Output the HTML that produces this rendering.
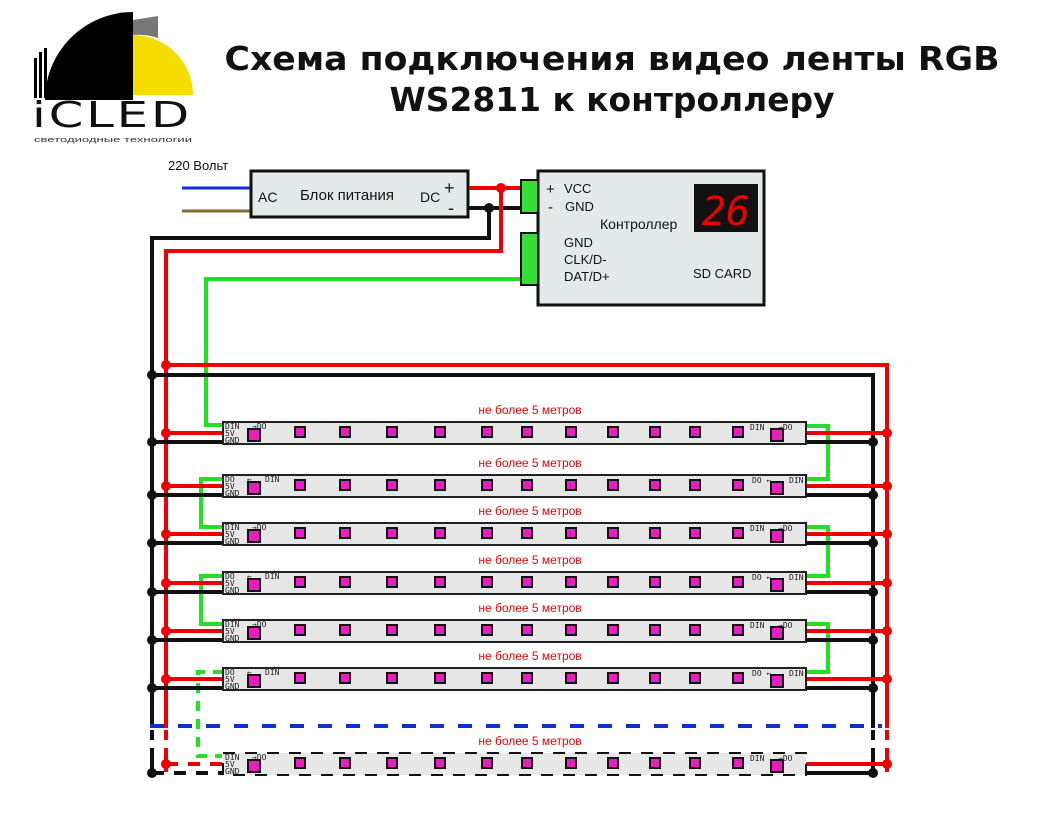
<!DOCTYPE html>
<html><head><meta charset="utf-8"><style>
html,body{margin:0;padding:0;background:#fff;}
svg{display:block;font-family:"Liberation Sans",sans-serif;}
.t{font-family:"DejaVu Sans","Liberation Sans",sans-serif;font-weight:bold;font-size:33px;fill:#111;}
.lbl{font-family:"DejaVu Sans Mono","Liberation Mono",monospace;font-size:8px;fill:#222;}
.len{font-size:12px;fill:#e00;}
</style></head><body>
<svg width="1048" height="816" viewBox="0 0 1048 816">
<!-- logo -->
<path d="M45,100 A88,88 0 0 1 133,12 L133,100 Z" fill="#000"/>
<path d="M133,35 A60,60 0 0 1 193,95 L133,95 Z" fill="#f7dc00"/>
<path d="M133,20 L158,16 L158,38 A62,62 0 0 0 133,35 Z" fill="#777"/>
<rect x="34" y="58" width="3" height="40" fill="#000"/><rect x="39" y="52" width="3" height="46" fill="#000"/><rect x="44" y="48" width="3" height="50" fill="#000"/>
<text x="32" y="127" font-size="36" textLength="160" lengthAdjust="spacingAndGlyphs" font-family="DejaVu Sans" fill="#111" style="letter-spacing:2px">iCLED</text>
<text x="34" y="142" font-size="7" textLength="158" lengthAdjust="spacingAndGlyphs" fill="#333">светодиодные технологии</text>
<!-- title -->
<text class="t" x="612" y="70" text-anchor="middle" textLength="775" lengthAdjust="spacingAndGlyphs">Схема подключения видео ленты RGB</text>
<text class="t" x="612" y="111" text-anchor="middle" textLength="445" lengthAdjust="spacingAndGlyphs">WS2811 к контроллеру</text>
<!-- power supply -->
<text x="168" y="170" font-size="13" fill="#111">220 Вольт</text>
<line x1="182" y1="188" x2="250" y2="188" stroke="#1030e0" stroke-width="3"/>
<line x1="182" y1="211" x2="250" y2="211" stroke="#8a6a2a" stroke-width="3"/>
<rect x="251" y="171" width="217" height="46" fill="#e4e9e9" stroke="#111" stroke-width="3"/>
<text x="258" y="202" font-size="14" fill="#111">AC</text>
<text x="300" y="200" font-size="15" fill="#111">Блок питания</text>
<text x="420" y="202" font-size="14" fill="#111">DC</text>
<text x="444" y="194" font-size="18" fill="#111">+</text>
<text x="448" y="214" font-size="18" fill="#111">-</text>
<!-- wires from PS -->
<polyline points="469,188 522,188" fill="none" stroke="#e00" stroke-width="4"/>
<polyline points="469,208 522,208" fill="none" stroke="#111" stroke-width="4"/>
<polyline points="501,188 501,251 166,251 166,772" fill="none" stroke="#e00" stroke-width="4"/>
<polyline points="489,208 489,238 152,238 152,776" fill="none" stroke="#111" stroke-width="4"/>
<circle cx="501" cy="188" r="5" fill="#e00"/><circle cx="489" cy="208" r="5" fill="#111"/>
<polyline points="524,279 206,279 206,425 223,425" fill="none" stroke="#22e022" stroke-width="4"/>
<!-- controller -->
<rect x="538" y="171" width="226" height="134" fill="#e4e9e9" stroke="#111" stroke-width="3"/>
<rect x="521" y="180" width="17" height="33" fill="#33e033" stroke="#111" stroke-width="2"/>
<rect x="521" y="233" width="17" height="52" fill="#33e033" stroke="#111" stroke-width="2"/>
<text x="546" y="194" font-size="15" fill="#111">+</text><text x="564" y="193" font-size="13" fill="#111">VCC</text>
<text x="548" y="212" font-size="15" fill="#111">-</text><text x="565" y="211" font-size="13" fill="#111">GND</text>
<text x="600" y="229" font-size="14" fill="#111">Контроллер</text>
<rect x="694" y="184" width="64" height="48" fill="#111"/>
<text x="726" y="225" font-size="40" fill="#e00" text-anchor="middle" font-style="italic" font-family="DejaVu Sans Mono">26</text>
<text x="564" y="247" font-size="13" fill="#111">GND</text>
<text x="564" y="264" font-size="13" fill="#111">CLK/D-</text>
<text x="564" y="281" font-size="13" fill="#111">DAT/D+</text>
<text x="693" y="278" font-size="13" fill="#111">SD CARD</text>
<!-- top bus -->
<line x1="166" y1="365" x2="887" y2="365" stroke="#e00" stroke-width="4"/>
<line x1="152" y1="375" x2="873" y2="375" stroke="#111" stroke-width="4"/>
<line x1="887" y1="363" x2="887" y2="772" stroke="#e00" stroke-width="4"/>
<line x1="873" y1="373" x2="873" y2="776" stroke="#111" stroke-width="4"/>
<circle cx="166" cy="365" r="5" fill="#e00"/><circle cx="152" cy="375" r="5" fill="#111"/>
<!-- green snake -->
<g fill="none" stroke="#22e022" stroke-width="4">
<polyline points="806,426 828,426 828,479 806,479"/>
<polyline points="223,479 201,479 201,527 223,527"/>
<polyline points="806,527 828,527 828,576 806,576"/>
<polyline points="223,576 201,576 201,624 223,624"/>
<polyline points="806,624 828,624 828,672 806,672"/>
<polyline points="223,672 198,672 198,756 222,756" stroke-dasharray="10,8"/>
</g>
<!-- blue dashed -->
<line x1="150" y1="726" x2="882" y2="726" stroke="#1030d0" stroke-width="4" stroke-dasharray="14,14"/>
<rect x="148" y="728" width="8" height="30" fill="#fff"/><rect x="162" y="728" width="8" height="25" fill="#fff"/>
<rect x="869" y="728" width="8" height="30" fill="#fff"/><rect x="883" y="728" width="8" height="25" fill="#fff"/>
<line x1="152" y1="730" x2="152" y2="762" stroke="#111" stroke-width="4" stroke-dasharray="10,8"/>
<line x1="166" y1="730" x2="166" y2="762" stroke="#e00" stroke-width="4" stroke-dasharray="10,8"/>
<line x1="873" y1="730" x2="873" y2="772" stroke="#111" stroke-width="4" stroke-dasharray="10,8"/>
<line x1="887" y1="730" x2="887" y2="772" stroke="#e00" stroke-width="4" stroke-dasharray="10,8"/>
<g id="strips"></g>
</svg>
<script>
(function(){
var ns="http://www.w3.org/2000/svg",g=document.getElementById("strips");
function el(t,a,txt){var e=document.createElementNS(ns,t);for(var k in a)e.setAttribute(k,a[k]);if(txt)e.textContent=txt;g.appendChild(e);return e;}
var tops=[422,475,523,572,620,668,753];
var xs=[254,300,345,392,440,487,527,571,613,655,695,738,777];
tops.forEach(function(T,i){
 var last=(i==6),rev=(i%2==1);
 el("text",{x:530,y:T-8,"text-anchor":"middle","class":"len"},"не более 5 метров");
 var rY=T+11,bY=T+20;
 if(last){
  el("line",{x1:166,y1:rY,x2:222,y2:rY,stroke:"#e00","stroke-width":4,"stroke-dasharray":"12,10"});
  el("line",{x1:152,y1:bY,x2:222,y2:bY,stroke:"#111","stroke-width":4,"stroke-dasharray":"12,10"});
 } else {
  el("line",{x1:166,y1:rY,x2:222,y2:rY,stroke:"#e00","stroke-width":4});
  el("line",{x1:152,y1:bY,x2:222,y2:bY,stroke:"#111","stroke-width":4});
 }
 el("line",{x1:806,y1:rY,x2:887,y2:rY,stroke:"#e00","stroke-width":4});
 el("line",{x1:806,y1:bY,x2:873,y2:bY,stroke:"#111","stroke-width":4});
 el("circle",{cx:166,cy:rY,r:5,fill:"#e00"});el("circle",{cx:152,cy:bY,r:5,fill:"#111"});
 el("circle",{cx:887,cy:rY,r:5,fill:"#e00"});el("circle",{cx:873,cy:bY,r:5,fill:"#111"});
 var s={x:223,y:T,width:583,height:22,fill:"#e6e6e6",stroke:"#222","stroke-width":2};
 if(last){s.stroke="#111";s["stroke-dasharray"]="12,10";s.fill="#e8e8e8";}
 el("rect",s);
 xs.forEach(function(x,j){var big=(j==0||j==12);var sz=big?12:10;var cy=big?T+13:T+10;
  el("rect",{x:x-sz/2,y:cy-sz/2,width:sz,height:sz,fill:"#e81ec0",stroke:"#111","stroke-width":2});});
 el("text",{x:225,y:T+7,"class":"lbl"},rev?"DO":"DIN");
 el("text",{x:225,y:T+14,"class":"lbl"},"5V");
 el("text",{x:225,y:T+21,"class":"lbl"},"GND");
 if(rev){el("text",{x:247,y:T+7,"class":"lbl"},"←");el("text",{x:265,y:T+7,"class":"lbl"},"DIN");
  el("text",{x:752,y:T+8,"class":"lbl"},"DO ←");el("text",{x:789,y:T+8,"class":"lbl"},"DIN");}
 else{el("text",{x:252,y:T+7,"class":"lbl"},"→DO");
  el("text",{x:750,y:T+8,"class":"lbl"},"DIN");el("text",{x:778,y:T+8,"class":"lbl"},"→DO");}
});
})();
</script>
</body></html>
